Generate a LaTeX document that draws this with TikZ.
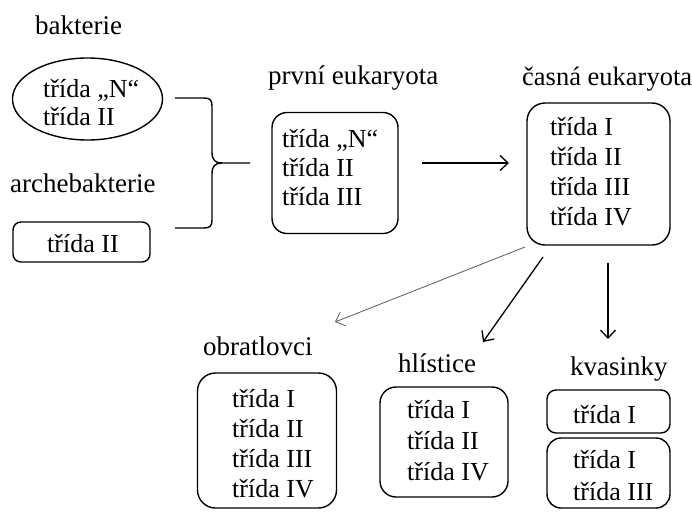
\documentclass[tikz,border=0pt]{standalone}
\usepackage{fontspec}
\setmainfont{Liberation Serif}
\usetikzlibrary{shapes.geometric,arrows.meta}
\begin{document}
\begin{tikzpicture}[x=1pt,y=-1pt,
  txt/.style={anchor=base west,inner sep=0pt,font=\fontsize{26}{30}\selectfont},
  lbl/.style={anchor=base west,inner sep=0pt,font=\fontsize{27}{31}\selectfont},
  rbox/.style={draw,line width=1.4pt,rectangle,inner sep=0pt},
  arr/.style={line width=1.3pt,-{Straight Barb[length=8pt,width=15pt,line width=1.3pt]}},
  thinarr/.style={line width=0.8pt,draw=black!65,-{Straight Barb[length=8pt,width=15pt,line width=0.8pt]}}]
\useasboundingbox (0,0) rectangle (692,511);

% --- bacteria and archaea ---
\node[lbl] (lbBak) at (35,35) {bakterie};
\node[draw,line width=1.4pt,ellipse,minimum width=150pt,minimum height=82pt,inner sep=0pt] (bak) at (87.5,99) {};
\node[txt] (bak1) at (43,97) {třída „N“};
\node[txt] (bak2) at (43,125) {třída II};

\node[lbl] (lbArch) at (10,192) {archebakterie};
\node[rbox,rounded corners=8pt,minimum width=137pt,minimum height=40pt] (arch) at (81.5,242) {};
\node[txt] (arch1) at (47,252) {třída II};

% brace joining both groups
\draw[line width=1.4pt]
  (175,98) -- (204,98) .. controls (210,98) and (212,100) .. (212,106)
  -- (212,152) .. controls (212,160) and (215,163) .. (222,163) -- (250,163);
\draw[line width=1.4pt]
  (222,163) .. controls (215,163) and (212,166) .. (212,174)
  -- (212,220) .. controls (212,226) and (210,228) .. (204,228) -- (175,228);

% --- first eukaryotes ---
\node[lbl] (lbPrv) at (268,84) {první eukaryota};
\node[rbox,rounded corners=15pt,minimum width=126pt,minimum height=121pt] (prv) at (335,173) {};
\node[txt] (prv1) at (282,147) {třída „N“};
\node[txt] (prv2) at (282,176) {třída II};
\node[txt] (prv3) at (282,205) {třída III};

% --- early eukaryotes ---
\node[lbl,font=\fontsize{26.5}{31}\selectfont] (lbCas) at (522,85) {časná eukaryota};
\node[rbox,rounded corners=18pt,minimum width=143pt,minimum height=142pt] (cas) at (598.5,174) {};
\node[txt] (cas1) at (550,135) {třída I};
\node[txt] (cas2) at (550,165) {třída II};
\node[txt] (cas3) at (550,195) {třída III};
\node[txt] (cas4) at (550,225) {třída IV};

\coordinate (a1s) at (422,163);
\coordinate (a1e) at (509,163);
\draw[arr] (a1s) -- (a1e);

% --- descendants ---
\node[lbl] (lbObr) at (203,355) {obratlovci};
\node[rbox,rounded corners=18pt,minimum width=139pt,minimum height=135pt] (obr) at (267,440.5) {};
\node[txt] (obr1) at (232,407) {třída I};
\node[txt] (obr2) at (232,437) {třída II};
\node[txt] (obr3) at (232,467) {třída III};
\node[txt] (obr4) at (232,497) {třída IV};

\node[lbl] (lbHli) at (398,372) {hlístice};
\node[rbox,rounded corners=16pt,minimum width=128pt,minimum height=110pt] (hli) at (444,442) {};
\node[txt] (hli1) at (407,418) {třída I};
\node[txt] (hli2) at (407,449) {třída II};
\node[txt] (hli3) at (407,480) {třída IV};

\node[lbl] (lbKva) at (570,375) {kvasinky};
\node[rbox,rounded corners=9pt,minimum width=123pt,minimum height=43pt] (kva1) at (608.5,411.5) {};
\node[txt] (kva11) at (573,423) {třída I};
\node[rbox,rounded corners=14pt,minimum width=123pt,minimum height=70pt] (kva2) at (608.5,473) {};
\node[txt] (kva21) at (573,468) {třída I};
\node[txt] (kva22) at (573,500) {třída III};

% arrows from the early eukaryotes
\coordinate (d1s) at (525,247);
\coordinate (d1e) at (335,322);
\coordinate (d2s) at (543,257);
\coordinate (d2e) at (483,342);
\coordinate (d3s) at (608,263);
\coordinate (d3e) at (608,339);
\draw[thinarr] (d1s) -- (d1e);
\draw[arr] (d2s) -- (d2e);
\draw[arr] (d3s) -- (d3e);
\end{tikzpicture}
\end{document}
